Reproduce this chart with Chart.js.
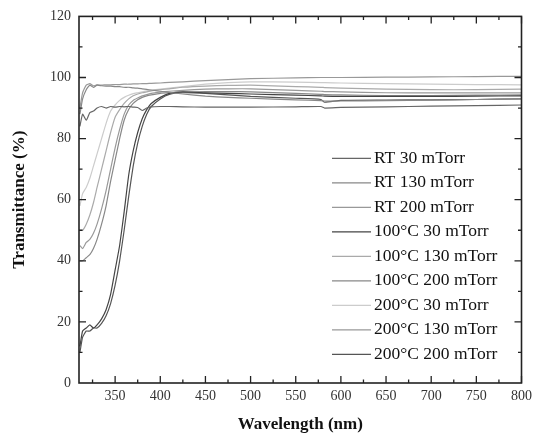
<!DOCTYPE html>
<html>
<head>
<meta charset="utf-8">
<script src="https://cdn.jsdelivr.net/npm/chart.js@4.4.1/dist/chart.umd.min.js"></script>
<style>
    html, body { margin: 0; padding: 0; background: #fff; }
    #transChart { display: block; }
</style>
</head>
<body>
<canvas id="transChart" width="537" height="438"></canvas>
<script>
// Wavelength samples (nm)
const wavelengths = [311, 314, 318, 322, 326, 330, 335, 340, 345, 350, 355, 360, 365, 370, 375, 380,
                     385, 390, 400, 410, 425, 450, 475, 500, 550, 578, 582, 600, 650, 700, 750, 800];

const seriesLabels = ['RT 30 mTorr', 'RT 130 mTorr', 'RT 200 mTorr',
                      '100°C 30 mTorr', '100°C 130 mTorr', '100°C 200 mTorr',
                      '200°C 30 mTorr', '200°C 130 mTorr', '200°C 200 mTorr'];
const seriesColors = ['#666', '#888', '#999', '#444', '#aaa', '#888', '#ccc', '#999', '#555'];

// Transmittance (%) per series, same order as wavelengths
const rt30 = [84, 88, 86, 88.5, 89, 90, 90.5, 90, 90.5, 90.3, 90.5, 90.4, 90.5, 90.3, 90.2, 89.2,
              90, 90.4, 90.5, 90.5, 90.4, 90.3, 90.3, 90.3, 90.4, 90.5, 90, 90.2, 90.4, 90.6, 90.8, 91];
const rt130 = [88, 93, 96, 97.5, 96.8, 97.5, 97.3, 97.2, 97.2, 97, 97, 96.8, 96.8, 96.6, 96.5, 96.3,
               96.1, 95.9, 95.5, 95.1, 94.6, 93.9, 93.5, 93.2, 92.7, 92.4, 92.3, 92.3, 92.4, 92.6, 92.8, 93];
const rt200 = [90, 95, 97.5, 98, 97.3, 97.6, 97.5, 97.6, 97.6, 97.7, 97.7, 97.8, 97.8, 97.9, 97.9, 98,
               98, 98.1, 98.2, 98.4, 98.6, 99, 99.3, 99.6, 99.9, 100, 100, 100, 100.1, 100.2, 100.3, 100.4];
const c100p30 = [12, 17, 18, 19, 18, 19, 21, 24, 29, 37, 45, 56, 68, 76, 82, 86.5,
                 89.5, 91.5, 93.5, 94.8, 95.3, 95, 94.8, 94.6, 94.2, 94, 93.9, 93.8, 93.8, 93.8, 93.9, 94];
const c100p130 = [50, 50, 52, 55, 59, 64, 70, 76, 82, 87, 89.5, 91.5, 93, 94, 94.6, 95,
                  95.3, 95.6, 96, 96.3, 96.8, 97.2, 97.4, 97.5, 97, 96.8, 96.7, 96.5, 96.2, 96, 96, 96.2];
const c100p200 = [40, 40, 41, 42, 44, 47, 52, 58, 66, 73, 80, 86, 89.5, 91.5, 92.7, 93.5,
                  94, 94.3, 94.8, 95, 95.2, 95.4, 95.4, 95.3, 94.8, 94.5, 94.4, 94.3, 94.1, 94.1, 94.2, 94.3];
const c200p30 = [58, 62, 64, 67, 71, 75, 80, 85, 89, 91, 92.5, 93.5, 94.2, 94.7, 95, 95.3,
                 95.6, 95.8, 96.2, 96.5, 97, 97.8, 98.3, 98.6, 98.5, 98.3, 98.3, 98.2, 98, 97.8, 97.7, 97.6];
const c200p130 = [45, 44, 46, 47, 49, 52, 57, 63, 70, 77, 83, 88, 91, 92.5, 93.3, 94,
                  94.4, 94.8, 95.2, 95.5, 95.8, 96.2, 96.3, 96.3, 95.8, 95.5, 95.4, 95.3, 95, 95, 95, 95];
const c200p200 = [10, 15, 17, 17, 18, 18, 19.5, 22, 26, 32, 40, 50, 61, 71, 78.5, 84,
                  88, 90.5, 93, 94.5, 95, 94.8, 94.3, 93.8, 93.2, 92.8, 91.9, 92.5, 92.6, 92.7, 92.8, 93];

const seriesValues = [rt30, rt130, rt200, c100p30, c100p130, c100p200, c200p30, c200p130, c200p200];

// Axis ticks
const xTickLabels = [350, 400, 450, 500, 550, 600, 650, 700, 750, 800];
const yTickLabels = [0, 20, 40, 60, 80, 100, 120];

const SERIF = "'Liberation Serif', 'Times New Roman', serif";

const TransmittanceChart = {
    init: function() {
        const el = document.getElementById('transChart');
        if (!el) return;

        new Chart(el, {
            type: 'line',
            data: {
                datasets: seriesValues.map((vals, i) => ({
                    label: seriesLabels[i],
                    data: vals.map((v, j) => ({ x: wavelengths[j], y: v })),
                    borderColor: seriesColors[i],
                    backgroundColor: seriesColors[i],
                    borderWidth: 1.2,
                    pointRadius: 0,
                    tension: 0.15,
                    fill: false
                }))
            },
            options: {
                responsive: false,
                animation: false,
                layout: { padding: { top: 15, right: 10, left: 0, bottom: 0 } },
                plugins: {
                    legend: { display: false },
                    tooltip: { enabled: false }
                },
                scales: {
                    x: {
                        type: 'linear',
                        min: 310,
                        max: 800,
                        grid: { display: false, drawTicks: false },
                        border: { display: false },
                        afterBuildTicks: (s) => { s.ticks = xTickLabels.map(v => ({ value: v })); },
                        afterFit: (s) => { s.height = 55; },
                        ticks: { color: '#333', padding: 5, maxRotation: 0, font: { family: SERIF, size: 14 } },
                        title: {
                            display: true,
                            text: 'Wavelength (nm)',
                            color: '#111',
                            font: { family: SERIF, size: 17, weight: 'bold' },
                            padding: { top: 0, bottom: 3 }
                        }
                    },
                    y: {
                        min: 0,
                        max: 120,
                        grid: { display: false, drawTicks: false },
                        border: { display: false },
                        afterBuildTicks: (s) => { s.ticks = yTickLabels.map(v => ({ value: v })); },
                        afterFit: (s) => { s.width = 79; },
                        ticks: { color: '#333', padding: 8, font: { family: SERIF, size: 14 } },
                        title: {
                            display: true,
                            text: 'Transmittance (%)',
                            color: '#111',
                            font: { family: SERIF, size: 17, weight: 'bold' },
                            padding: { top: 9, bottom: 0 }
                        }
                    }
                }
            },
            plugins: [this.framePlugin, this.legendPlugin]
        });
    },

    // box around the plot with inward ticks on all four sides
    framePlugin: {
        id: 'frame',
        afterDraw: function(chart) {
            const ctx = chart.ctx;
            const a = chart.chartArea;
            const xs = chart.scales.x, ys = chart.scales.y;
            ctx.save();
            ctx.strokeStyle = '#222';
            ctx.lineWidth = 1.6;
            ctx.strokeRect(a.left, a.top, a.right - a.left, a.bottom - a.top);
            ctx.lineWidth = 1.3;
            ctx.beginPath();
            for (let v = 325; v <= 800; v += 25) {
                const px = xs.getPixelForValue(v);
                const len = v % 50 === 0 ? 7 : 3.5;
                ctx.moveTo(px, a.bottom); ctx.lineTo(px, a.bottom - len);
                ctx.moveTo(px, a.top); ctx.lineTo(px, a.top + len);
            }
            for (let v = 10; v < 120; v += 10) {
                const py = ys.getPixelForValue(v);
                const len = v % 20 === 0 ? 7 : 3.5;
                ctx.moveTo(a.left, py); ctx.lineTo(a.left + len, py);
                ctx.moveTo(a.right, py); ctx.lineTo(a.right - len, py);
            }
            ctx.stroke();
            ctx.restore();
        }
    },

    legendPlugin: {
        id: 'insetLegend',
        afterDraw: function(chart) {
            const ctx = chart.ctx;
            const a = chart.chartArea;
            const x0 = a.left + 253, y0 = a.top + 142, step = 24.5;
            ctx.save();
            ctx.font = '17.5px ' + SERIF;
            ctx.textBaseline = 'middle';
            ctx.fillStyle = '#111';
            chart.data.datasets.forEach((ds, i) => {
                const y = y0 + i * step;
                ctx.strokeStyle = ds.borderColor;
                ctx.lineWidth = 1.4;
                ctx.beginPath();
                ctx.moveTo(x0, y); ctx.lineTo(x0 + 39, y);
                ctx.stroke();
                ctx.fillText(ds.label, x0 + 42, y);
            });
            ctx.restore();
        }
    }
};

TransmittanceChart.init();
</script>
</body>
</html>
